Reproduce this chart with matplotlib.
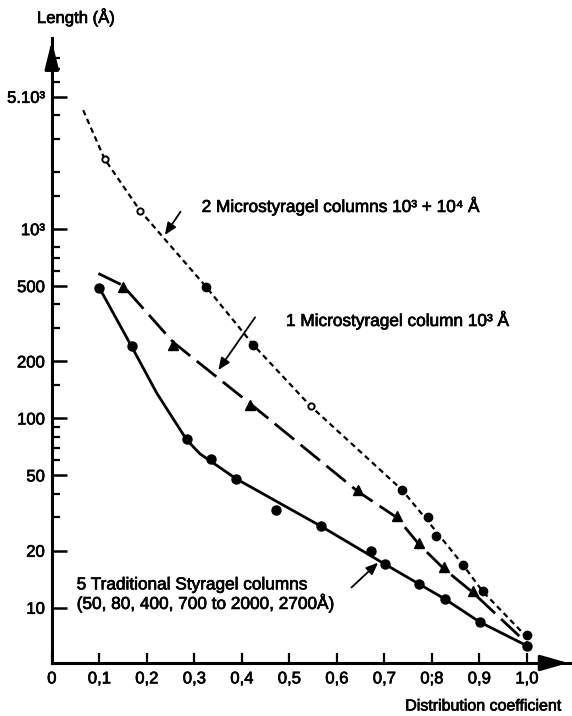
import numpy as np
import matplotlib
matplotlib.use('Agg')
import matplotlib.pyplot as plt
import matplotlib.patheffects as pe
from matplotlib.text import Text

plt.rcParams['font.family'] = ['Liberation Sans', 'DejaVu Sans']

# Axis ticks and their printed labels (decimal comma, as in the book)
x_ticks = [0, 0.1, 0.2, 0.3, 0.4, 0.5, 0.6, 0.7, 0.8, 0.9, 1.0]
x_tick_labels = ['0', '0,1', '0,2', '0,3', '0,4', '0,5', '0,6', '0,7', '0;8', '0,9', '1,0']
y_ticks = [10, 20, 50, 100, 200, 500, 1000, 5000]
y_tick_labels = ['10', '20', '50', '100', '200', '500', '10³', '5.10³']
y_minor_ticks = [30, 40, 60, 70, 80, 90, 150, 300, 400, 600, 700, 800,
                 1500, 2000, 3000, 4000, 6000, 7000, 8000]

# 2 Microstyragel columns 10^3 + 10^4 A  (measured points)
two_x = [0.111, 0.186, 0.325, 0.424, 0.545, 0.737, 0.791, 0.809, 0.866, 0.907, 1.0]
two_y = [2350, 1250, 495, 245, 116, 42, 30, 24, 16.8, 12.2, 7.2]
two_open = [True, True, False, False, True, False, False, False, False, False, False]
# hand-drawn curve through them
two_curve_x = [0.066, 0.111, 0.186, 0.325, 0.424, 0.545, 0.737, 0.80, 0.866, 0.907, 1.0]
two_curve_y = [4250, 2350, 1250, 495, 245, 116, 42, 27, 16.8, 12.2, 7.0]

# 1 Microstyragel column 10^3 A
one_x = [0.149, 0.256, 0.417, 0.645, 0.726, 0.774, 0.826, 0.887]
one_y = [497, 244, 118, 42, 30.5, 22, 16.5, 12.2]
one_curve_x = [0.098, 0.149, 0.256, 0.417, 0.645, 0.726, 0.774, 0.826, 0.887, 1.0]
one_curve_y = [583, 505, 252, 120, 41, 30, 21.5, 16, 12, 6.5]

# 5 Traditional Styragel columns
five_x = [0.100, 0.168, 0.284, 0.335, 0.388, 0.471, 0.566, 0.671, 0.701, 0.774, 0.828, 0.901, 1.0]
five_y = [490, 240, 78, 61, 48, 33, 27, 20, 17, 13.3, 11.1, 8.4, 6.3]
five_curve_x = [0.100, 0.168, 0.221, 0.284, 0.312, 0.388, 0.566, 0.701, 0.828, 0.901, 1.0]
five_curve_y = [490, 240, 136, 77, 65, 48, 27, 17, 11.1, 8.4, 6.3]

fig = plt.figure(figsize=(5.72, 7.16), dpi=100)
ax = fig.add_axes([51.8 / 572, 53 / 716, 520.2 / 572, 625 / 716])
ax.set_yscale('log')
ax.set_xlim(0, 520.2 / 475)
ax.set_ylim(5.105, 10222)

# curves
ax.plot(two_curve_x, two_curve_y, color='black', lw=1.6, dashes=(2.5, 1.8))
ax.plot(one_curve_x, one_curve_y, color='black', lw=2.0, dashes=(9, 3))
ax.plot(five_curve_x, five_curve_y, color='black', lw=2.0)

# markers
for x, y, hollow in zip(two_x, two_y, two_open):
    if hollow:
        ax.plot(x, y, 'o', ms=4.5, mfc='white', mec='black', mew=1.4)
    else:
        ax.plot(x, y, 'o', ms=6, color='black')
ax.plot(one_x, one_y, '^', ms=6.5, color='black', ls='none')
ax.plot(five_x, five_y, 'o', ms=6.5, color='black', ls='none')

# axes styling
for side in ['top', 'right']:
    ax.spines[side].set_visible(False)
for side in ['left', 'bottom']:
    ax.spines[side].set_linewidth(2.2)

ax.set_xticks(x_ticks)
ax.set_xticklabels(x_tick_labels, fontsize=12)
ax.set_yticks(y_ticks)
ax.set_yticklabels(y_tick_labels, fontsize=12)
ax.minorticks_on()
ax.xaxis.set_minor_locator(plt.NullLocator())
ax.set_yticks(y_minor_ticks, minor=True)
ax.yaxis.set_minor_formatter(plt.NullFormatter())
ax.tick_params(axis='x', direction='in', length=7, width=1.6, pad=6)
ax.tick_params(axis='y', which='major', direction='in', length=11, width=1.8, pad=5)
ax.tick_params(axis='y', which='minor', direction='in', length=6, width=1.6)

# arrow heads on the axes
ax.annotate('', xy=(0, 1.0), xytext=(0, 0.97), xycoords='axes fraction',
            arrowprops=dict(arrowstyle='-|>,head_length=1.4,head_width=0.35',
                            lw=2.2, color='black', mutation_scale=12),
            annotation_clip=False)
ax.annotate('', xy=(0.998, 0), xytext=(0.96, 0), xycoords='axes fraction',
            arrowprops=dict(arrowstyle='-|>,head_length=1.4,head_width=0.4',
                            lw=2.2, color='black', mutation_scale=12),
            annotation_clip=False)

# series labels with pointer arrows
arrow_kw = dict(arrowstyle='-|>,head_length=0.6,head_width=0.25', lw=1.3,
                color='black', mutation_scale=12, shrinkA=0, shrinkB=0)
ax.annotate('', xy=(0.238, 931), xytext=(0.271, 1236), arrowprops=arrow_kw)
ax.text(0.3155, 1325, '2 Microstyragel columns 10³ + 10⁴ Å', fontsize=12.4,
        ha='left', va='center')
ax.annotate('', xy=(0.3505, 180), xytext=(0.428, 342), arrowprops=arrow_kw)
ax.text(0.493, 331, '1 Microstyragel column 10³ Å', fontsize=12.4,
        ha='left', va='center')
ax.annotate('', xy=(0.687, 17.3), xytext=(0.631, 12.8), arrowprops=arrow_kw)
ax.text(0.0524, 13.2, '5 Traditional Styragel columns', fontsize=12.4,
        ha='left', va='center')
ax.text(0.0524, 10.6, '(50, 80, 400, 700 to 2000, 2700Å)', fontsize=12.4,
        ha='left', va='center')

# axis titles
fig.text(37 / 572, 1 - 17 / 716, 'Length (Å)', fontsize=12, ha='left', va='center')
fig.text(562 / 572, 1 - 706 / 716, 'Distribution coefficient', fontsize=11.5,
         ha='right', va='center')

# printed type is a little heavier than the plain face
for t in fig.findobj(Text):
    t.set_path_effects([pe.withStroke(linewidth=0.5, foreground='black')])

fig.savefig('out.png', dpi=100)
